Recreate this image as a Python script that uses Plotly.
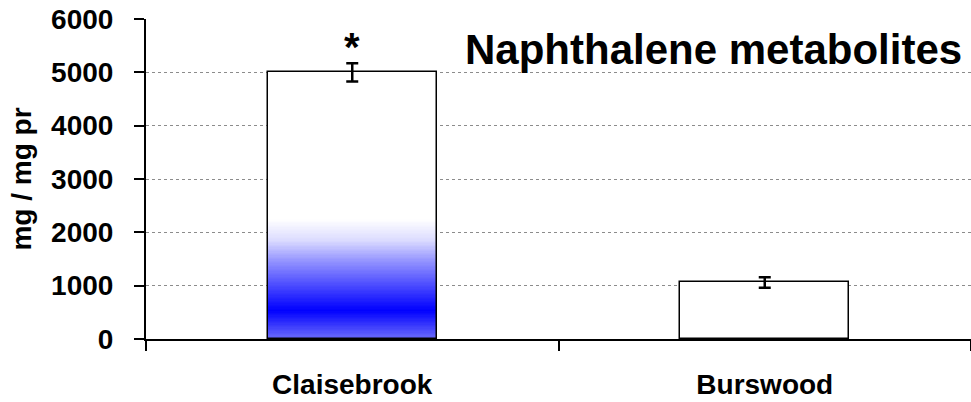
import plotly.graph_objects as go

categories = ["Claisebrook", "Burswood"]
values = [5000, 1060]
errors = [170, 100]
y_ticks = [0, 1000, 2000, 3000, 4000, 5000, 6000]
title_text = "Naphthalene metabolites"
y_title = "mg / mg pr"
signif = "*"

FONT = "Liberation Sans, Arial, sans-serif"
BAR_W = 0.41

# decorative vertical gradient inside the first bar (style only)
grad_stops = [(0, (110, 110, 250)), (540, (0, 0, 255)), (920, (60, 60, 255)),
              (1480, (150, 150, 255)), (1860, (220, 220, 255)), (2250, (255, 255, 255))]

def grad_color(v):
    for (v0, c0), (v1, c1) in zip(grad_stops[:-1], grad_stops[1:]):
        if v0 <= v <= v1:
            t = (v - v0) / (v1 - v0)
            c = [round(a + (b - a) * t) for a, b in zip(c0, c1)]
            return f"rgb({c[0]},{c[1]},{c[2]})"
    return "white"

n_seg = 90
top = grad_stops[-1][0]
seg_h = top / n_seg
seg_base = [i * seg_h for i in range(n_seg)]
seg_cols = [grad_color(b + seg_h / 2) for b in seg_base]

fig = go.Figure()
fig.add_trace(go.Bar(x=categories, y=values, width=BAR_W,
                     marker=dict(color="white", line=dict(width=0)),
                     hoverinfo="skip", showlegend=False))
fig.add_trace(go.Bar(x=[categories[0]] * n_seg, y=[seg_h * 1.02] * n_seg, base=seg_base,
                     width=BAR_W, marker=dict(color=seg_cols, line=dict(width=0)),
                     hoverinfo="skip", showlegend=False))
fig.add_trace(go.Bar(x=categories, y=values, width=BAR_W,
                     marker=dict(color="rgba(0,0,0,0)", line=dict(color="black", width=1.5)),
                     error_y=dict(type="data", array=errors, color="black",
                                  thickness=2.5, width=6),
                     showlegend=False))

fig.add_annotation(x=categories[0], y=values[0] + errors[0], text=signif,
                   showarrow=False, yanchor="bottom", yshift=-8,
                   font=dict(family=FONT, size=40, color="black"))
fig.add_annotation(xref="paper", yref="paper", x=1, y=0.906, xanchor="right",
                   yanchor="middle", xshift=-7, text=f"<b>{title_text}</b>",
                   showarrow=False, font=dict(family=FONT, size=42, color="black"))

fig.update_layout(
    width=971, height=402,
    margin=dict(l=146, r=0, t=19, b=63, autoexpand=False),
    paper_bgcolor="white", plot_bgcolor="white",
    barmode="overlay", bargap=0,
    font=dict(family=FONT, size=28, color="black", weight="bold"),
)
fig.update_xaxes(type="category", range=[-0.5, 1.5], tickson="boundaries",
                 ticks="outside", ticklen=10, tickwidth=2, tickcolor="black",
                 showline=True, linecolor="black", linewidth=2, automargin=False,
                 tickfont=dict(family=FONT, size=28, weight="bold"),
                 ticklabelstandoff=19)
fig.update_yaxes(range=[0, 6000], tickvals=y_ticks, automargin=False,
                 ticks="outside", ticklen=10, tickwidth=2, tickcolor="black",
                 showline=True, linecolor="black", linewidth=2,
                 showgrid=True, gridcolor="#8c8c8c", griddash="dot", gridwidth=1,
                 zeroline=False,
                 tickfont=dict(family=FONT, size=28, weight="bold"),
                 ticklabelstandoff=15,
                 title=dict(text=y_title, standoff=11,
                            font=dict(family=FONT, size=28, weight="bold")))

fig.write_html("out.html", config={"displayModeBar": False},
               post_script="document.body.style.margin='0';document.body.style.overflow='hidden';")
